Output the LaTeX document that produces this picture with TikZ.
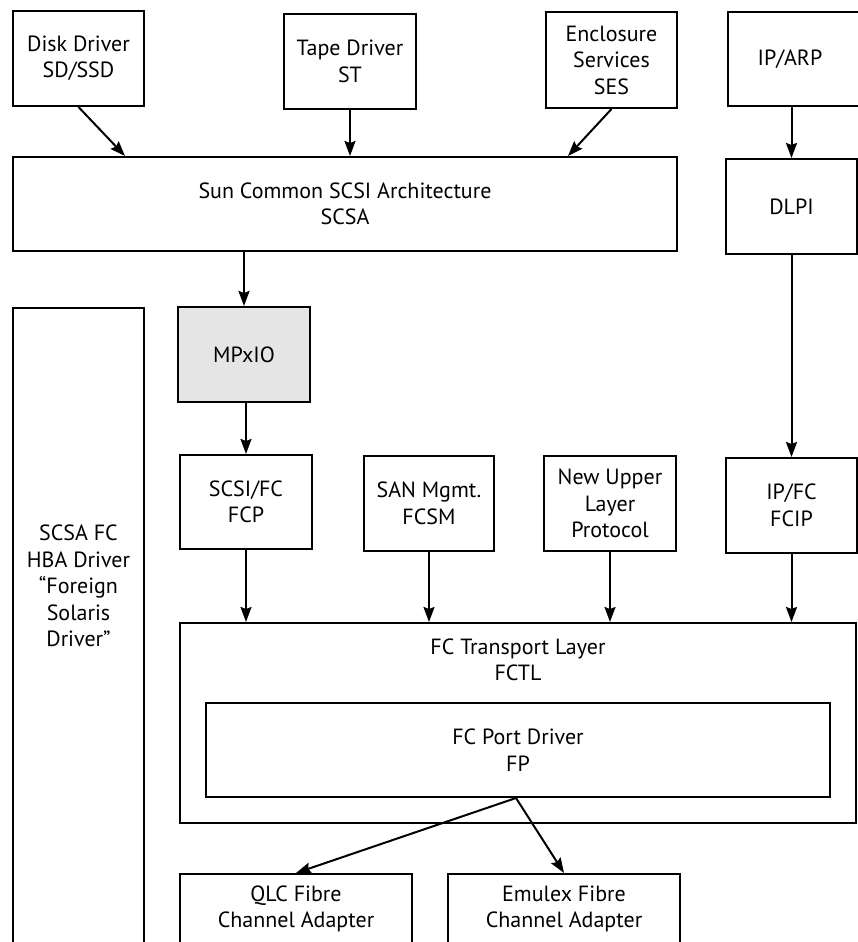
\documentclass[tikz,border=0pt]{standalone}
\usepackage{fontspec}
\setmainfont{PT Sans}
\usetikzlibrary{arrows.meta}

\begin{document}
\begin{tikzpicture}[x=1pt,y=-1pt,
  box/.style={draw,line width=2pt,align=center,inner sep=0pt,font=\fontsize{22}{26.5}\selectfont},
  txt/.style={align=center,inner sep=0pt,font=\fontsize{22}{26.5}\selectfont},
  arr/.style={line width=2pt,-{Stealth[length=15pt,width=11pt,inset=2pt]}}]
\useasboundingbox (0,0) rectangle (858,942);
\clip (0,0) rectangle (858,942);
\node[box,minimum width=131pt,minimum height=95pt] (disk) at (78.5,58.5) {Disk Driver\\SD/SSD};
\node[box,minimum width=132pt,minimum height=95pt] (tape) at (350,61.5) {Tape Driver\\ST};
\node[box,minimum width=131pt,minimum height=96pt] (ses) at (611.5,60) {Enclosure\\Services\\SES};
\node[box,minimum width=133pt,minimum height=94pt] (iparp) at (794.5,59) {IP/ARP\hspace*{9pt}};
\node[box,minimum width=664pt,minimum height=94pt] (scsa) at (345,204) {Sun Common SCSI Architecture\\SCSA};
\node[box,minimum width=131pt,minimum height=95pt] (dlpi) at (791.5,206.5) {DLPI};
\node[box,minimum width=131pt,minimum height=680pt,anchor=north] (hba) at (78.5,307) {};
\node[txt] (hbatxt) at (78.5,586) {SCSA FC\\HBA Driver\\“Foreign\\Solaris\\Driver”};
\node[box,fill=black!10,minimum width=132pt,minimum height=95pt] (mpxio) at (244,354.5) {MPxIO};
\node[box,minimum width=132pt,minimum height=94pt] (scsifc) at (246,502) {SCSI/FC\\FCP};
\node[box,minimum width=130pt,minimum height=95pt] (sanm) at (429,503.5) {SAN Mgmt.\\FCSM};
\node[box,minimum width=132pt,minimum height=95pt] (nulp) at (610,503.5) {New Upper\\Layer\\Protocol};
\node[box,minimum width=131pt,minimum height=95pt] (ipfc) at (791.5,505.5) {IP/FC\\FCIP};
\node[box,minimum width=676pt,minimum height=200pt] (fctl) at (518,723) {};
\node[txt] (fctltxt) at (518,660) {FC Transport Layer\\FCTL};
\node[box,minimum width=624pt,minimum height=94pt] (fp) at (518,750) {FC Port Driver\\FP};
\node[box,minimum width=232pt,minimum height=70pt] (qlc) at (296,909) {QLC Fibre\\Channel Adapter};
\node[box,minimum width=232pt,minimum height=70pt] (emx) at (564,909) {Emulex Fibre\\Channel Adapter};
\draw[arr] (disk.south) -- ([xshift=113pt]scsa.north west);
\draw[arr] (tape.south) -- (tape.south |- scsa.north);
\draw[arr] (ses.south) -- ([xshift=-110pt]scsa.north east);
\draw[arr] (dlpi.north |- iparp.south) -- (dlpi.north);
\draw[arr] (mpxio.north |- scsa.south) -- (mpxio.north);
\draw[arr] (scsifc.north |- mpxio.south) -- (scsifc.north);
\draw[arr] (dlpi.south) -- (ipfc.north);
\draw[arr] (scsifc.south) -- (scsifc.south |- fctl.north);
\draw[arr] (sanm.south) -- (sanm.south |- fctl.north);
\draw[arr] (nulp.south) -- (nulp.south |- fctl.north);
\draw[arr] (ipfc.south) -- (ipfc.south |- fctl.north);
\draw[arr] ([xshift=-2pt]fp.south) -- (qlc.north);
\draw[arr] ([xshift=-2pt]fp.south) -- (emx.north);
\end{tikzpicture}
\end{document}
